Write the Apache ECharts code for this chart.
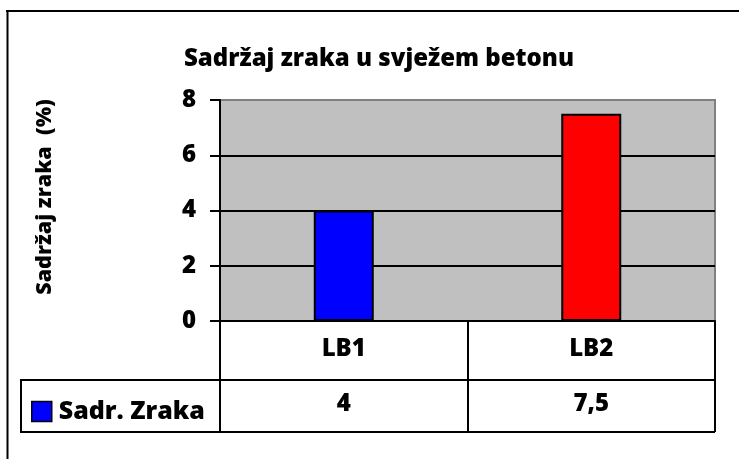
<!DOCTYPE html>
<html>
<head>
<meta charset="utf-8">
<script src="https://cdn.jsdelivr.net/npm/echarts@6/dist/echarts.min.js"></script>
<style>
html,body{margin:0;padding:0;background:#fff;}
#c{width:739px;height:459px;}
</style>
</head>
<body>
<div id="c"></div>
<script>
var categories = ['LB1', 'LB2'];
var seriesName = 'Sadr. Zraka';
var values = [4, 7.5];
var barColors = ['#0000FF', '#FF0000'];
var yTicks = [0, 2, 4, 6, 8];
var titleText = 'Sadržaj zraka u svježem betonu';
var yAxisTitle = 'Sadržaj zraka  (%)';

var FONT = 'Open Sans';
var FW = 800;
var FS = 24;
var G = {left: 220, top: 100, right: 24, bottom: 138};
var ROW1 = 59, ROW2 = 52;
var TABLE_LEFT = 21;
var W = 739, H = 459;
var gridBottomY = H - G.bottom;
var gridRightX = W - G.right;

var chart = echarts.init(document.getElementById('c'), null, {renderer: 'canvas'});

var option = {
  animation: false,
  backgroundColor: '#fff',
  title: {
    text: titleText,
    left: 374, top: 42, textAlign: 'center',
    textStyle: {fontFamily: FONT, fontWeight: FW, fontSize: 24, color: '#000'}
  },
  legend: {
    data: [seriesName],
    left: 31, top: 399, padding: 0,
    itemWidth: 20, itemHeight: 20,
    icon: 'rect',
    textStyle: {fontFamily: FONT, fontWeight: FW, fontSize: 25, color: '#000', padding: [0, 0, 0, 2]},
    itemStyle: {borderColor: '#000', borderWidth: 1.5}
  },
  grid: {
    left: G.left, top: G.top, right: G.right, bottom: G.bottom,
    show: true, backgroundColor: '#C0C0C0', borderColor: '#808080', borderWidth: 2,
    containLabel: false
  },
  xAxis: [{
    type: 'category',
    data: categories,
    position: 'bottom',
    axisLine: {show: true, lineStyle: {color: '#000', width: 2}},
    axisTick: {show: true, length: ROW1, lineStyle: {color: '#000', width: 2}},
    axisLabel: {fontFamily: FONT, fontWeight: FW, fontSize: FS, color: '#000', margin: 16},
    splitLine: {show: false}
  }, {
    type: 'category',
    data: values.map(function (v) { return String(v).replace('.', ','); }),
    position: 'bottom',
    offset: ROW1,
    axisLine: {show: true, lineStyle: {color: '#000', width: 2}},
    axisTick: {show: true, length: ROW2, lineStyle: {color: '#000', width: 2}},
    axisLabel: {fontFamily: FONT, fontWeight: FW, fontSize: FS, color: '#000', margin: 12},
    splitLine: {show: false}
  }],
  yAxis: {
    type: 'value',
    min: yTicks[0], max: yTicks[yTicks.length - 1], interval: yTicks[1] - yTicks[0],
    axisLine: {show: true, lineStyle: {color: '#000', width: 2}},
    axisTick: {show: true, inside: false, length: 10, lineStyle: {color: '#000', width: 2}},
    axisLabel: {fontFamily: FONT, fontWeight: FW, fontSize: FS, color: '#000', margin: 24},
    splitLine: {show: true, showMaxLine: false, lineStyle: {color: '#000', width: 2}}
  },
  series: [{
    name: seriesName,
    type: 'bar',
    xAxisIndex: 0,
    barWidth: 60,
    itemStyle: {color: barColors[0], borderColor: '#000', borderWidth: 2},
    data: values.map(function (v, i) {
      return {value: v, itemStyle: {color: barColors[i], borderColor: '#000', borderWidth: 2}};
    })
  }],
  graphic: [
    {type: 'line', shape: {x1: 6, y1: 11, x2: W, y2: 11}, style: {stroke: '#000', lineWidth: 2}},
    {type: 'line', shape: {x1: 7.5, y1: 10, x2: 7.5, y2: H}, style: {stroke: '#000', lineWidth: 2}},
    {type: 'line', shape: {x1: TABLE_LEFT, y1: gridBottomY + ROW1, x2: G.left, y2: gridBottomY + ROW1}, style: {stroke: '#000', lineWidth: 2}},
    {type: 'line', shape: {x1: TABLE_LEFT, y1: gridBottomY + ROW1 + ROW2, x2: gridRightX, y2: gridBottomY + ROW1 + ROW2}, style: {stroke: '#000', lineWidth: 2}},
    {type: 'line', shape: {x1: TABLE_LEFT, y1: gridBottomY + ROW1 - 1, x2: TABLE_LEFT, y2: gridBottomY + ROW1 + ROW2 + 1}, style: {stroke: '#000', lineWidth: 2}},
    {type: 'text', x: 45, y: 197, rotation: Math.PI / 2,
     style: {text: yAxisTitle, fontFamily: FONT, fontWeight: FW, fontSize: 21.5, fill: '#000', align: 'center', verticalAlign: 'middle'}}
  ]
};
chart.setOption(option);
</script>
</body>
</html>
